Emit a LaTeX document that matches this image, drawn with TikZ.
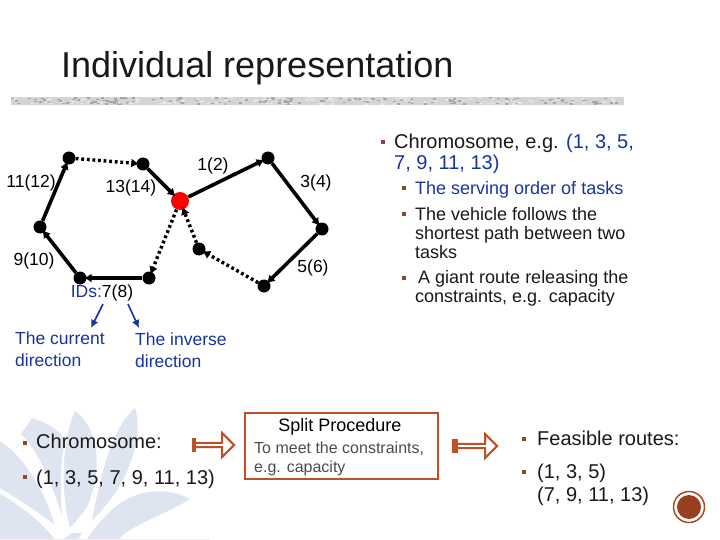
\documentclass[tikz,border=0pt]{standalone}
\usepackage{fontspec}
\setmainfont{Liberation Sans}
\usetikzlibrary{arrows.meta,shapes.arrows}
\definecolor{lbl}{RGB}{24,52,160}
\definecolor{rust}{RGB}{190,80,40}
\definecolor{bul}{RGB}{140,70,50}
\definecolor{leaf}{RGB}{222,228,240}
\tikzset{
 dot/.style={circle,fill=black,inner sep=0,minimum size=13pt},
 solidedge/.style={line width=3.6pt,shorten >=-3pt,-{Latex[length=8pt,width=9pt]}},
 dotedge/.style={line width=3.4pt,shorten >=-3pt,dash pattern=on 2.8pt off 2.8pt,-{Latex[length=8pt,width=9pt]}},
 idtxt/.style={font=\fontsize{17.5}{20}\selectfont,inner sep=0},
 bluetxt/.style={font=\fontsize{17.5}{22}\selectfont,text=lbl,align=left,inner sep=0,anchor=north west},
 bluearrow/.style={line width=1.6pt,lbl,-{Latex[length=8pt,width=8pt]}},
 txt/.style={font=\fontsize{20}{21}\selectfont,text=black!90,align=left,inner sep=0,anchor=north west},
 txtr/.style={font=\fontsize{20}{23}\selectfont,text=black!90,align=left,inner sep=0,anchor=north west},
 txtb/.style={font=\fontsize{18}{19}\selectfont,text=black!90,align=left,inner sep=0,anchor=north west},
 bull/.style={fill=bul,minimum size=4.5pt,inner sep=0},
 hollow/.style={single arrow,draw=rust,fill=white,line width=2pt,inner sep=0,minimum width=24pt,single arrow head extend=4.5pt,single arrow tip angle=90},
}
\begin{document}
\begin{tikzpicture}[x=1pt,y=-1pt]
\useasboundingbox (0,0) rectangle (720,540);
\fill[white] (0,0) rectangle (720,540);
% watermark
\begin{scope}[leaf]
\fill (0,441) .. controls (22,455) and (45,490) .. (54,524) .. controls (35,510) and (12,495) .. (0,488) -- cycle;
\fill (0,494) .. controls (20,505) and (45,525) .. (55,540) -- (0,540) -- cycle;
\fill (21,434) -- (32,418) .. controls (45,422) and (60,430) .. (65,440) .. controls (60,465) and (60,490) .. (62,515) .. controls (50,480) and (38,450) .. (21,434) -- cycle;
\fill (75,411) .. controls (95,425) and (105,460) .. (88,505) .. controls (82,515) and (75,522) .. (70,528) .. controls (60,490) and (62,440) .. (75,411) -- cycle;
\fill (135,408) .. controls (145,440) and (125,490) .. (92,520) .. controls (100,480) and (110,430) .. (135,408) -- cycle;
\fill (190,499) .. controls (170,488) and (140,488) .. (118,505) .. controls (105,515) and (95,528) .. (86,540) -- (118,540) .. controls (130,525) and (165,515) .. (190,499) -- cycle;
\fill (62,540) -- (72,533) -- (82,533) -- (78,540) -- cycle;
\end{scope}
\fill[black!6] (0,538.5) rectangle (210,540);
% rule
\fill[black!17] (11,97) rectangle (624,105);
\pgfmathsetseed{7}
\foreach \i in {0,...,150}{
  \pgfmathsetmacro{\xa}{11+rnd*608}
  \pgfmathsetmacro{\ya}{97+rnd*6.5}
  \fill[white,opacity=.35] (\xa,\ya) rectangle +(3.5,1.5);
  \pgfmathsetmacro{\xb}{11+rnd*608}
  \pgfmathsetmacro{\yb}{97+rnd*6.5}
  \fill[black!35] (\xb,\yb) rectangle +(3,1.5);
}
% title
\node[font=\fontsize{36}{40}\selectfont,text=black!90,inner sep=0,anchor=base west] (title) at (61,78) {Individual representation};
% graph nodes
\node[dot] (n1) at (69,158) {};
\node[dot] (n2) at (143,164) {};
\node[circle,fill=red,inner sep=0,minimum size=18pt] (r) at (180,201) {};
\node[dot] (n4) at (268,158) {};
\node[dot] (n5) at (322,229) {};
\node[dot] (n6) at (264,286) {};
\node[dot] (n7) at (199,249) {};
\node[dot] (n8) at (149,278) {};
\node[dot] (n9) at (80,278) {};
\node[dot] (n10) at (40,227) {};
\draw[dotedge] (n1) -- (n2);
\draw[solidedge] (n2) -- (r);
\draw[solidedge] (r) -- (n4);
\draw[solidedge] (n4) -- (n5);
\draw[solidedge] (n5) -- (n6);
\draw[dotedge] (n6) -- (n7);
\draw[dotedge] (n7) -- (r);
\draw[dotedge] (r) -- (n8);
\draw[solidedge] (n8) -- (n9);
\draw[solidedge] (n9) -- (n10);
\draw[solidedge] (n10) -- (n1);
% id labels
\node[idtxt] (l1) at (213,166) {1(2)};
\node[idtxt] (l2) at (316,183) {3(4)};
\node[idtxt] (l3) at (313,268) {5(6)};
\node[idtxt] (l4) at (34,261) {9(10)};
\node[idtxt] (l5) at (31,183) {11(12)};
\node[idtxt] (l6) at (131,188) {13(14)};
\node[idtxt] (ids) at (102,292.5) {\textcolor{lbl}{IDs:}7(8)};
\node[bluetxt] (cur) at (15,331.5) {The current\\direction};
\node[bluetxt] (inv) at (135,332.5) {The inverse\\direction};
\coordinate (ca) at (103,304);
\coordinate (cb) at (91,328);
\coordinate (ia) at (128,304);
\coordinate (ib) at (139,328);
\draw[bluearrow] (ca) -- (cb);
\draw[bluearrow] (ia) -- (ib);
% right block
\node[bull] (b1) at (383,142) {};
\node[txt] (t1) at (394,133.5) {Chromosome, e.g. {\color{lbl}(1, 3, 5,}\\{\color{lbl}7, 9, 11, 13)}};
\node[bull] (b2) at (404,188) {};
\node[txtb,text=lbl] (t2) at (415,181) {The serving order of tasks};
\node[bull] (b3) at (404,214) {};
\node[txtb] (t3) at (415,207) {The vehicle follows the\\shortest path between two\\tasks};
\node[bull] (b4) at (404,278) {};
\node[txtb] (t4) at (415,270.5) {\,A giant route releasing the\\constraints, e.g. capacity};
% bottom
\node[bull] (b5) at (25,443) {};
\node[txt] (t5) at (36,434) {Chromosome:};
\node[bull] (b6) at (25,477) {};
\node[txt] (t6) at (36,470) {(1, 3, 5, 7, 9, 11, 13)};
\node[hollow,minimum height=41pt] (a1) at (212.5,445) {};
\fill[rust] (192,438) rectangle (196,452);
\node[draw=rust,line width=1.8pt,minimum width=193pt,minimum height=66pt,inner sep=0] (box) at (341.5,446) {};
\node[font=\fontsize{18}{20}\selectfont,inner sep=0] (s1) at (340,427) {Split Procedure};
\node[font=\fontsize{16}{19}\selectfont,text=black!70,align=left,inner sep=0,anchor=north west] (s2) at (254,441.5) {To meet the constraints,\\e.g. capacity};
\node[hollow,minimum height=44pt] (a2) at (474,446) {};
\fill[rust] (452,439) rectangle (458,453);
\node[bull] (b7) at (524,439) {};
\node[txt] (t7) at (537,431) {Feasible routes:};
\node[bull] (b8) at (524,472) {};
\node[txtr] (t8) at (537,464) {(1, 3, 5)\\(7, 9, 11, 13)};
% badge
\node[circle,draw=rust!90!black,fill=white,line width=1.5pt,inner sep=0,minimum size=31pt] (bo) at (689,507) {};
\node[circle,fill=rust!80!black,inner sep=0,minimum size=24pt] (bi) at (689,507) {};
\end{tikzpicture}
\end{document}
